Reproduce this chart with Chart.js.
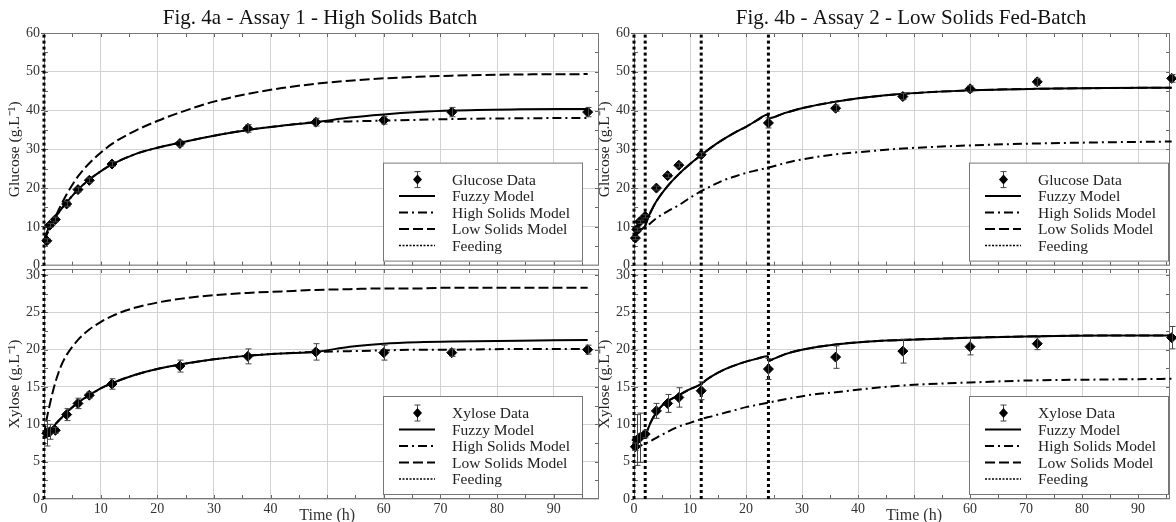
<!DOCTYPE html>
<html>
<head>
<meta charset="utf-8">
<script src="https://cdn.jsdelivr.net/npm/chart.js"></script>
<style>
  html, body { margin: 0; padding: 0; background: #fff; overflow: hidden; }
  #wrap { position: relative; width: 1176px; height: 522px; }
  .panel { position: absolute; }
</style>
</head>
<body>
<div id="wrap">
  <div class="panel" style="left:0;top:0;width:605px;height:275px"><canvas id="glucA"></canvas></div>
  <div class="panel" style="left:0;top:250px;width:605px;height:272px"><canvas id="xylA"></canvas></div>
  <div class="panel" style="left:590px;top:0;width:586px;height:275px"><canvas id="glucB"></canvas></div>
  <div class="panel" style="left:590px;top:250px;width:586px;height:272px"><canvas id="xylB"></canvas></div>
</div>
<script>
// ---- Assay 1 (high solids batch) ----
var tDataA = [0.5, 1, 2, 4, 6, 8, 12, 24, 36, 48, 60, 72, 96];
var glucDataA = [6.4, 10.4, 11.9, 15.9, 19.6, 22.0, 26.2, 31.5, 35.4, 37.0, 37.5, 39.6, 39.6];
var glucErrA = [0.5, 0.5, 0.6, 0.6, 0.6, 0.6, 0.6, 0.7, 1.0, 1.0, 1.0, 1.2, 1.2];
var xylDataA = [8.8, 9.0, 9.2, 11.3, 12.8, 13.9, 15.4, 17.8, 19.1, 19.7, 19.6, 19.6, 20.0];
var xylErrA = [1.7, 1.0, 0.4, 0.8, 0.7, 0.4, 0.7, 0.8, 1.0, 1.1, 1.0, 0.5, 0.6];

var tModelA = [0, 0.5, 1, 2, 3, 4, 6, 8, 10, 12, 16, 20, 24, 30, 36, 42, 48, 54, 60, 66, 72, 84, 96];
var fuzzyGlucA = [6.2, 8.6, 10.3, 12.4, 14.5, 16.3, 19.6, 22.2, 24.3, 26.1, 28.7, 30.4, 31.7, 33.5, 35.0, 36.1, 37.0, 38.2, 39.0, 39.6, 40.0, 40.3, 40.4];
var highGlucA = [6.2, 8.6, 10.3, 12.4, 14.5, 16.3, 19.6, 22.2, 24.3, 26.1, 28.7, 30.4, 31.7, 33.5, 35.0, 36.1, 37.0, 37.2, 37.4, 37.6, 37.8, 38.0, 38.1];
var lowGlucA = [6.5, 8.0, 9.6, 12.6, 15.6, 18.4, 23.0, 26.4, 29.1, 31.4, 34.7, 37.3, 39.5, 42.3, 44.3, 45.8, 46.9, 47.7, 48.3, 48.7, 49.0, 49.3, 49.4];
var fuzzyXylA = [8.1, 8.6, 9.1, 10.0, 10.8, 11.6, 12.9, 13.9, 14.8, 15.5, 16.6, 17.4, 18.0, 18.7, 19.2, 19.5, 19.7, 20.4, 20.8, 21.0, 21.1, 21.2, 21.3];
var highXylA = [8.1, 8.6, 9.1, 10.0, 10.8, 11.6, 12.9, 13.9, 14.8, 15.5, 16.6, 17.4, 18.0, 18.7, 19.2, 19.5, 19.7, 19.8, 19.9, 20.0, 20.0, 20.1, 20.1];
var lowXylA = [8.5, 10.8, 12.6, 15.6, 17.8, 19.3, 21.3, 22.7, 23.7, 24.5, 25.6, 26.3, 26.8, 27.3, 27.6, 27.8, 28.0, 28.1, 28.2, 28.2, 28.3, 28.3, 28.3];
var feedA = [0];

// ---- Assay 2 (low solids fed-batch) ----
var tDataB = [0.25, 0.5, 1, 2, 4, 6, 8, 12, 24, 36, 48, 60, 72, 96];
var glucDataB = [7.1, 9.3, 11.3, 12.7, 20.0, 23.2, 25.9, 28.6, 36.8, 40.6, 43.6, 45.6, 47.4, 48.3];
var glucErrB = [0.4, 0.4, 0.4, 0.4, 0.5, 0.5, 0.5, 0.5, 1.3, 0.8, 0.8, 0.8, 0.9, 1.0];
var xylDataB = [7.0, 7.9, 8.2, 8.7, 11.8, 12.8, 13.6, 14.5, 17.4, 19.0, 19.8, 20.4, 20.8, 21.6];
var xylErrB = [0.5, 3.4, 3.3, 0.5, 1.0, 1.2, 1.3, 1.2, 1.4, 1.5, 1.6, 1.1, 0.8, 1.5];

var tFuzzyGlucB = [0, 1, 2, 2.5, 3, 4, 6, 8, 10, 12, 14, 16, 18, 20, 22, 23.9, 24, 27, 30, 36, 42, 48, 60, 72, 84, 96];
var fuzzyGlucB = [8.0, 9.1, 10.3, 12.3, 13.9, 16.6, 20.5, 23.6, 26.2, 28.5, 30.7, 32.6, 34.3, 35.8, 37.5, 39.0, 38.0, 39.4, 40.6, 42.3, 43.5, 44.3, 45.2, 45.6, 45.8, 45.9];
var lowGlucB = fuzzyGlucB; // low solids model sits under the fuzzy curve here
var tFuzzyXylB = [0, 1, 2, 2.5, 3, 4, 5, 6, 8, 10, 12, 13, 14, 16, 18, 20, 22, 23.9, 24, 25, 27, 30, 36, 42, 48, 60, 72, 84, 96];
var fuzzyXylB = [7.0, 7.8, 8.6, 9.4, 10.3, 11.6, 12.5, 13.1, 13.9, 14.7, 15.4, 16.0, 16.5, 17.3, 17.9, 18.4, 18.8, 19.1, 18.5, 18.8, 19.4, 20.0, 20.7, 21.1, 21.3, 21.6, 21.8, 21.9, 21.9];
var lowXylB = fuzzyXylB;
var tHighB = [0, 1, 2, 4, 6, 8, 10, 12, 14, 16, 18, 20, 22, 24, 28, 32, 36, 42, 48, 60, 72, 84, 96];
var highGlucB = [7.5, 8.7, 9.8, 12.2, 14.0, 15.6, 17.5, 19.2, 20.7, 22.0, 23.0, 23.9, 24.6, 25.3, 26.8, 27.9, 28.7, 29.5, 30.2, 31.0, 31.5, 31.8, 32.0];
var highXylB = [6.8, 7.1, 7.4, 8.2, 9.0, 9.7, 10.2, 10.7, 11.1, 11.5, 11.9, 12.3, 12.6, 12.9, 13.5, 14.0, 14.3, 14.8, 15.2, 15.6, 15.9, 16.0, 16.1];
var feedB = [0, 2, 12, 24];

var FONT = "'Liberation Serif', 'Times New Roman', serif";
var DASH = { solid: [], dashdot: [9, 4, 2, 4], dash: [10, 4], feed: [2, 1.5] };

Chart.defaults.font.family = FONT;
Chart.defaults.color = "#333";

function pts(xs, ys) {
  return xs.map(function (x, i) { return { x: x, y: ys[i] }; });
}

function dataSet(label, xs, ys) {
  return { label: label, data: pts(xs, ys), showLine: false, pointStyle: "rectRot", pointRadius: 5,
    pointBackgroundColor: "#000", pointBorderColor: "#000", pointBorderWidth: 1, clip: false };
}

function modelLine(label, xs, ys, dash) {
  return { label: label, data: pts(xs, ys), borderColor: "#000", borderWidth: 2, borderDash: dash,
    pointRadius: 0, cubicInterpolationMode: "monotone", clip: false };
}

function feedLines(times, yTop) {
  return times.map(function (t) {
    return { label: "Feeding", data: [{ x: t, y: 0 }, { x: t, y: yTop }], borderColor: "#000",
      borderWidth: 3, borderDash: [3, 3], pointRadius: 0, clip: false };
  });
}

// frame, minor ticks, error bars, title and the boxed legend
var panelDeco = {
  id: "panelDeco",
  beforeDatasetsDraw: function (chart, args, opts) {
    var ctx = chart.ctx, a = chart.chartArea, xs = chart.scales.x, ys = chart.scales.y;
    ctx.save();
    ctx.strokeStyle = "#666";
    ctx.lineWidth = 1;
    ctx.beginPath();
    for (var v = 5; v < xs.max; v += 5) {
      var px = Math.round(xs.getPixelForValue(v)) + 0.5;
      ctx.moveTo(px, a.top); ctx.lineTo(px, a.top + 4);
      ctx.moveTo(px, a.bottom); ctx.lineTo(px, a.bottom - 4);
    }
    for (var w = opts.yMinor; w < ys.max; w += opts.yMinor) {
      var py = Math.round(ys.getPixelForValue(w)) + 0.5;
      ctx.moveTo(a.left, py); ctx.lineTo(a.left + 4, py);
      ctx.moveTo(a.right, py); ctx.lineTo(a.right - 4, py);
    }
    ctx.stroke();
    ctx.strokeStyle = "#777";
    ctx.strokeRect(a.left + 0.5, a.top + 0.5, a.right - a.left - 1, a.bottom - a.top - 1);
    ctx.restore();
  },
  afterDatasetsDraw: function (chart, args, opts) {
    if (!opts.errors) return;
    var ctx = chart.ctx, xs = chart.scales.x, ys = chart.scales.y, e = opts.errors;
    ctx.save();
    ctx.strokeStyle = "#444";
    ctx.lineWidth = 1;
    ctx.beginPath();
    e.times.forEach(function (t, i) {
      var px = Math.round(xs.getPixelForValue(t)) + 0.5;
      var y1 = ys.getPixelForValue(e.values[i] - e.errs[i]);
      var y2 = ys.getPixelForValue(e.values[i] + e.errs[i]);
      ctx.moveTo(px, y1); ctx.lineTo(px, y2);
      ctx.moveTo(px - 3, y1); ctx.lineTo(px + 3, y1);
      ctx.moveTo(px - 3, y2); ctx.lineTo(px + 3, y2);
    });
    ctx.stroke();
    ctx.restore();
  },
  afterDraw: function (chart, args, opts) {
    var ctx = chart.ctx, a = chart.chartArea;
    ctx.save();
    if (opts.title) {
      ctx.fillStyle = "#111";
      ctx.font = "21px " + FONT;
      ctx.textAlign = "center";
      ctx.textBaseline = "alphabetic";
      ctx.fillText(opts.title, opts.titleX, 24);
    }

    var lg = opts.legend;
    var bx = a.right - lg.right - lg.width, by = a.bottom - lg.bottom - lg.height;
    ctx.fillStyle = "#fff";
    ctx.fillRect(bx, by, lg.width, lg.height);
    ctx.strokeStyle = "#777";
    ctx.lineWidth = 1;
    ctx.strokeRect(bx + 0.5, by + 0.5, lg.width - 1, lg.height - 1);
    lg.items.forEach(function (item, i) {
      var cy = by + 17 + i * 16.5, cx = bx + 34;
      ctx.save();
      ctx.strokeStyle = "#000";
      ctx.fillStyle = "#000";
      if (item.kind === "data") {
        ctx.strokeStyle = "#444";
        ctx.lineWidth = 1;
        ctx.beginPath();
        ctx.moveTo(cx + 0.5, cy - 8); ctx.lineTo(cx + 0.5, cy + 8);
        ctx.moveTo(cx - 2.5, cy - 8); ctx.lineTo(cx + 3.5, cy - 8);
        ctx.moveTo(cx - 2.5, cy + 8); ctx.lineTo(cx + 3.5, cy + 8);
        ctx.stroke();
        ctx.beginPath();
        ctx.moveTo(cx + 0.5, cy - 5); ctx.lineTo(cx + 5, cy);
        ctx.lineTo(cx + 0.5, cy + 5); ctx.lineTo(cx - 4, cy);
        ctx.closePath();
        ctx.fill();
      } else {
        ctx.lineWidth = item.kind === "feed" ? 1.5 : 2;
        ctx.setLineDash(DASH[item.kind]);
        ctx.beginPath();
        ctx.moveTo(bx + 16, cy); ctx.lineTo(bx + 52, cy);
        ctx.stroke();
      }
      ctx.restore();
      ctx.fillStyle = "#222";
      ctx.font = "15.5px " + FONT;
      ctx.textAlign = "left";
      ctx.textBaseline = "middle";
      ctx.fillText(item.label, bx + 69, cy + 1);
    });
    ctx.restore();
  }
};

function legendFor(dataLabel) {
  return [
    { label: dataLabel, kind: "data" },
    { label: "Fuzzy Model", kind: "solid" },
    { label: "High Solids Model", kind: "dashdot" },
    { label: "Low Solids Model", kind: "dash" },
    { label: "Feeding", kind: "feed" }
  ];
}

function makePanel(id, p) {
  var ctx = document.getElementById(id);
  return new Chart(ctx, {
    type: "line",
    data: { datasets: p.datasets },
    options: {
      responsive: true,
      maintainAspectRatio: false,
      animation: false,
      layout: { padding: p.bottom ? { top: 19, right: p.padRight, bottom: 0, left: 0 }
                                  : { top: 33, right: p.padRight, bottom: 8, left: 0 } },
      plugins: {
        legend: { display: false },
        tooltip: { enabled: false },
        panelDeco: { title: p.title, titleX: p.titleX, yMinor: p.yMinor, errors: p.errors,
          legend: { items: p.legendItems, right: p.legendRight, bottom: 4, width: 200, height: 99 } }
      },
      scales: {
        x: {
          type: "linear", min: 0, max: p.xMax,
          afterFit: function (s) { s.height = p.bottom ? 23 : 0; },
          border: { display: false },
          grid: { color: "#d2d2d2", drawTicks: false },
          ticks: {
            display: p.bottom, stepSize: 10, includeBounds: false, autoSkip: false,
            minRotation: 0, maxRotation: 0, padding: 2, color: "#333",
            font: function (c) {
              return c.tick && c.tick.value === 50 ? { size: 16, lineHeight: 1.9 } : { size: 14, lineHeight: 1.2 };
            },
            callback: function (v) { return v === 50 ? "Time (h)" : v; }
          }
        },
        y: {
          min: 0, max: p.yMax,
          afterFit: function (s) { s.width = 44; },
          border: { display: false },
          grid: { color: "#d2d2d2", tickLength: 3, tickColor: "#555" },
          ticks: { stepSize: p.yStep, includeBounds: false, padding: 1, color: "#333", font: { size: 14 } },
          title: { display: true, text: p.yTitle, color: "#222", font: { size: 15.5 }, padding: { top: 6, bottom: 0 } }
        }
      }
    },
    plugins: [panelDeco]
  });
}

makePanel("glucA", {
  title: "Fig. 4a - Assay 1 - High Solids Batch", titleX: 320,
  yTitle: "Glucose (g.L\u207B\u00B9)", yMax: 60, yStep: 10, yMinor: 5, xMax: 98, padRight: 6,
  bottom: false, legendRight: 16, legendItems: legendFor("Glucose Data"),
  errors: { times: tDataA, values: glucDataA, errs: glucErrA },
  datasets: [
    dataSet("Glucose Data", tDataA, glucDataA),
    modelLine("Fuzzy Model", tModelA, fuzzyGlucA, DASH.solid),
    modelLine("High Solids Model", tModelA, highGlucA, DASH.dashdot),
    modelLine("Low Solids Model", tModelA, lowGlucA, DASH.dash)
  ].concat(feedLines(feedA, 60))
});

makePanel("xylA", {
  yTitle: "Xylose (g.L\u207B\u00B9)", yMax: 30.8, yStep: 5, yMinor: 2.5, xMax: 98, padRight: 6,
  bottom: true, legendRight: 16, legendItems: legendFor("Xylose Data"),
  errors: { times: tDataA, values: xylDataA, errs: xylErrA },
  datasets: [
    dataSet("Xylose Data", tDataA, xylDataA),
    modelLine("Fuzzy Model", tModelA, fuzzyXylA, DASH.solid),
    modelLine("High Solids Model", tModelA, highXylA, DASH.dashdot),
    modelLine("Low Solids Model", tModelA, lowXylA, DASH.dash)
  ].concat(feedLines(feedA, 30.8))
});

makePanel("glucB", {
  title: "Fig. 4b - Assay 2 - Low Solids Fed-Batch", titleX: 321,
  yTitle: "Glucose (g.L\u207B\u00B9)", yMax: 60, yStep: 10, yMinor: 5, xMax: 95.7, padRight: 4,
  bottom: false, legendRight: 1, legendItems: legendFor("Glucose Data"),
  errors: { times: tDataB, values: glucDataB, errs: glucErrB },
  datasets: [
    dataSet("Glucose Data", tDataB, glucDataB),
    modelLine("Fuzzy Model", tFuzzyGlucB, fuzzyGlucB, DASH.solid),
    modelLine("High Solids Model", tHighB, highGlucB, DASH.dashdot),
    modelLine("Low Solids Model", tFuzzyGlucB, lowGlucB, DASH.dash)
  ].concat(feedLines(feedB, 60))
});

makePanel("xylB", {
  yTitle: "Xylose (g.L\u207B\u00B9)", yMax: 30.8, yStep: 5, yMinor: 2.5, xMax: 95.7, padRight: 4,
  bottom: true, legendRight: 1, legendItems: legendFor("Xylose Data"),
  errors: { times: tDataB, values: xylDataB, errs: xylErrB },
  datasets: [
    dataSet("Xylose Data", tDataB, xylDataB),
    modelLine("Fuzzy Model", tFuzzyXylB, fuzzyXylB, DASH.solid),
    modelLine("High Solids Model", tHighB, highXylB, DASH.dashdot),
    modelLine("Low Solids Model", tFuzzyXylB, lowXylB, DASH.dash)
  ].concat(feedLines(feedB, 30.8))
});
</script>
</body>
</html>
